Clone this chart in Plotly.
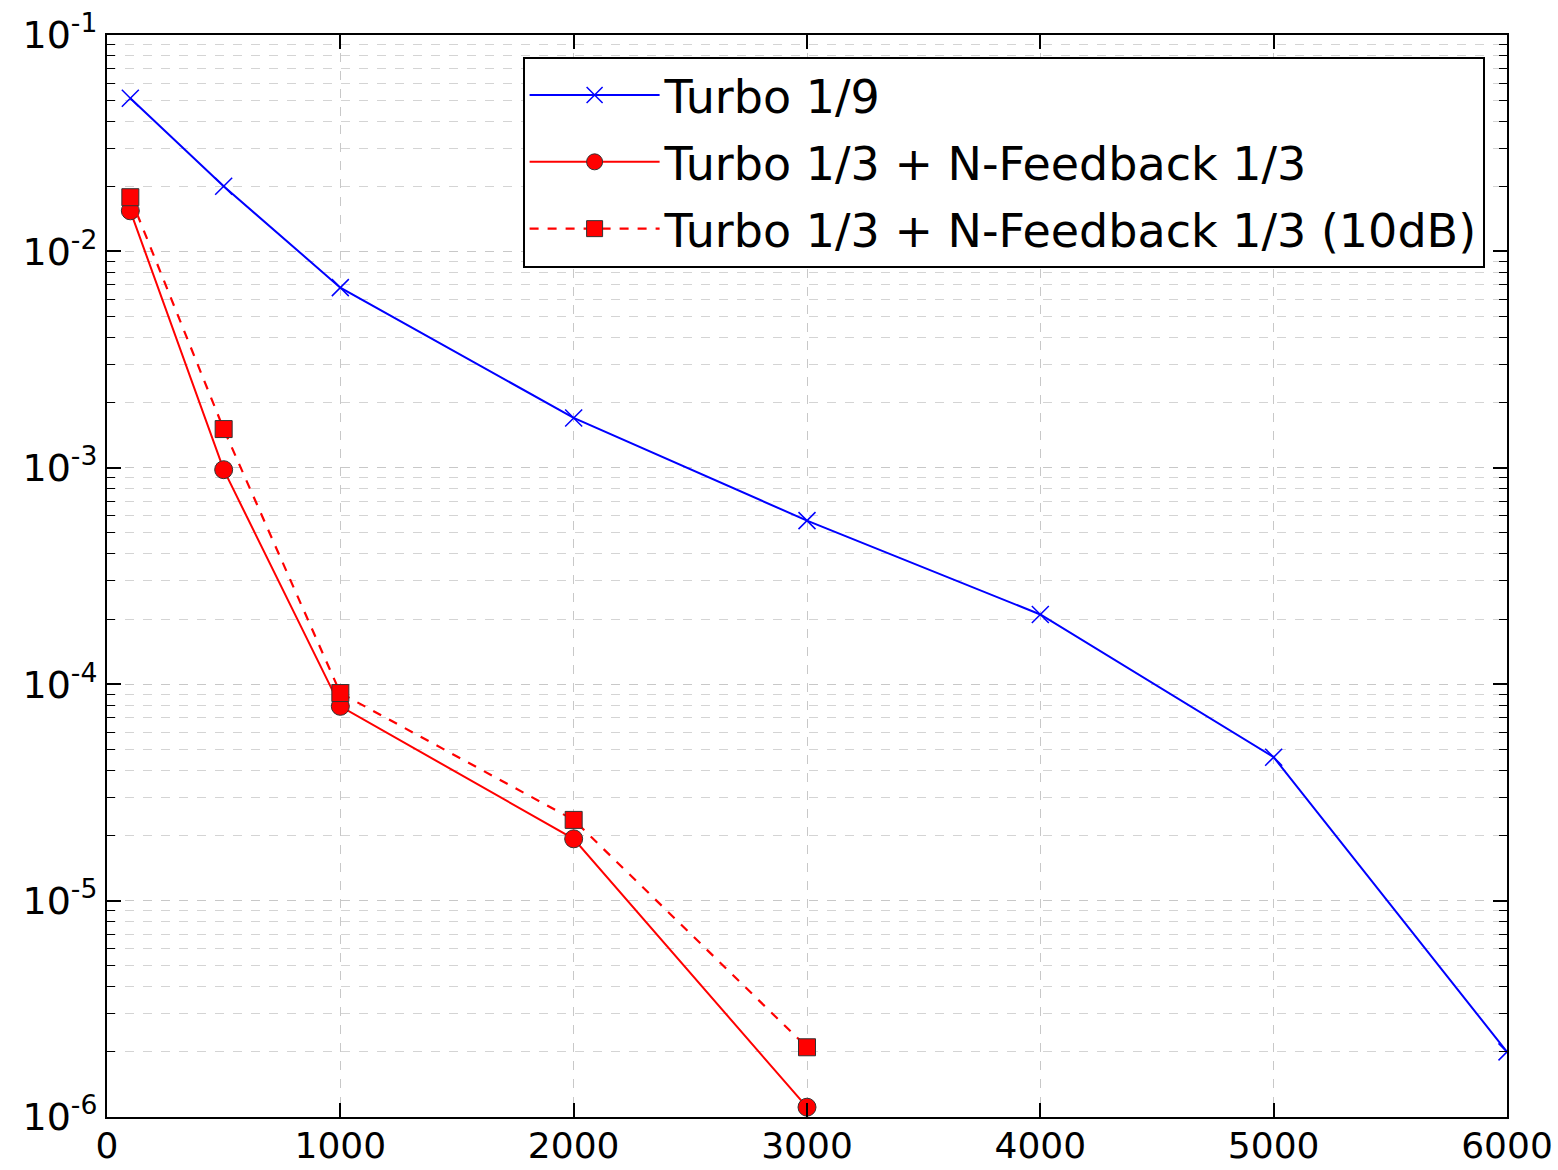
import plotly.graph_objects as go

# ---- data ----
x_turbo19 = [100, 500, 1000, 2000, 3000, 4000, 5000, 6000]
y_turbo19 = [0.051, 0.020, 0.0068, 0.0017, 5.7e-4, 2.1e-4, 4.6e-5, 2.0e-6]

x_nfb = [100, 500, 1000, 2000, 3000]
y_nfb = [0.0154, 9.8e-4, 7.9e-5, 1.93e-5, 1.11e-6]

x_nfb10 = [100, 500, 1000, 2000, 3000]
y_nfb10 = [0.0178, 1.51e-3, 9.1e-5, 2.36e-5, 2.1e-6]

names = ["Turbo 1/9", "Turbo 1/3 + N-Feedback 1/3", "Turbo 1/3 + N-Feedback 1/3 (10dB)"]

y_major = [1e-6, 1e-5, 1e-4, 1e-3, 1e-2, 1e-1]
y_major_text = ["10<sup>-6</sup>", "10<sup>-5</sup>", "10<sup>-4</sup>", "10<sup>-3</sup>",
                "10<sup>-2</sup>", "10<sup>-1</sup>"]
y_minor = [m * d for d in [1e-6, 1e-5, 1e-4, 1e-3, 1e-2] for m in range(2, 10)]
x_ticks = [0, 1000, 2000, 3000, 4000, 5000, 6000]

FONT = "DejaVu Sans"

fig = go.Figure()
fig.add_trace(go.Scatter(
    x=x_turbo19, y=y_turbo19, name=names[0], mode="lines+markers",
    line=dict(color="#0000ff", width=2),
    marker=dict(symbol="x-thin", size=17, line=dict(color="#0000ff", width=1.5)),
    legendgroup="a",
))
fig.add_trace(go.Scatter(
    x=x_nfb, y=y_nfb, name=names[1], mode="lines+markers",
    line=dict(color="#ff0000", width=2),
    marker=dict(symbol="circle", size=18, color="#ff0000", line=dict(color="#333333", width=1)),
    legendgroup="b",
))
fig.add_trace(go.Scatter(
    x=x_nfb10, y=y_nfb10, name=names[2], mode="lines+markers",
    line=dict(color="#ff0000", width=2.2, dash="dash"),
    marker=dict(symbol="square", size=17, color="#ff0000", line=dict(color="#333333", width=1)),
    legendgroup="c",
))

fig.update_layout(
    width=1558, height=1170,
    margin=dict(l=107, r=51, t=35, b=53, autoexpand=False),
    plot_bgcolor="white", paper_bgcolor="white",
    font=dict(family=FONT, size=40, color="black"),
    showlegend=True,
    legend=dict(
        x=0.984, y=0.98, xanchor="right", yanchor="top",
        bgcolor="white", bordercolor="black", borderwidth=2,
        font=dict(family=FONT, size=46, color="black"),
        tracegroupgap=4, traceorder="grouped",
        itemwidth=130,
    ),
)

fig.update_xaxes(
    range=[0, 6000], tickvals=x_ticks, ticktext=[str(v) for v in x_ticks],
    showgrid=True, gridcolor="#c8c8c8", griddash="dash", gridwidth=1.2,
    ticks="inside", ticklen=14, tickwidth=1.5, tickcolor="black",
    showline=True, linecolor="black", linewidth=2, mirror="ticks",
    tickfont=dict(family=FONT, size=36, color="black"),
    ticklabelstandoff=-4,
    zeroline=False, automargin=False,
)
fig.update_yaxes(
    type="log", range=[-6, -1], tickvals=y_major, ticktext=y_major_text,
    showgrid=True, gridcolor="#c8c8c8", griddash="dash", gridwidth=1.2,
    ticks="inside", ticklen=14, tickwidth=1.5, tickcolor="black",
    showline=True, linecolor="black", linewidth=2, mirror="ticks",
    tickfont=dict(family=FONT, size=38, color="black"),
    minor=dict(tickvals=y_minor, ticks="inside", ticklen=8, tickwidth=1.2, tickcolor="black",
               showgrid=True, gridcolor="#d4d4d4", griddash="dash", gridwidth=1.2),
    zeroline=False, automargin=False,
)

fig.write_html("out.html")
